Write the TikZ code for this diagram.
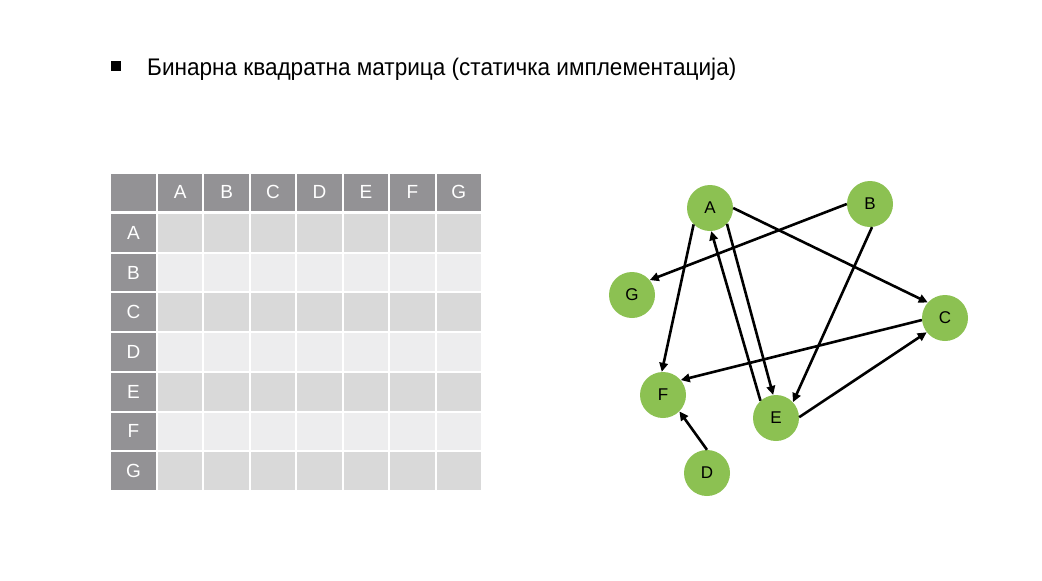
\documentclass[tikz,border=0pt]{standalone}
\usepackage{fontspec}
\setmainfont{Liberation Sans}
\usetikzlibrary{arrows.meta}
\definecolor{hdr}{HTML}{939295}
\definecolor{rowd}{HTML}{D9D9D9}
\definecolor{rowl}{HTML}{EDEDEE}
\definecolor{vgreen}{HTML}{8CC152}
\begin{document}
\begin{tikzpicture}[x=1pt,y=-1pt,
  hdrcell/.style={fill=hdr, draw=none, inner sep=0pt, text=white, font=\fontsize{19}{19}\selectfont},
  bodycell/.style={draw=none, inner sep=0pt},
  vtx/.style={circle, fill=vgreen, draw=none, minimum size=46pt, inner sep=0pt, font=\fontsize{17}{17}\selectfont},
  edge/.style={line width=2.6pt, -{Triangle[length=9pt,width=8.5pt]}}]
\useasboundingbox (0,0) rectangle (1042,581);
\fill[white] (0,0) rectangle (1042,581);
% title
\node[fill=black, minimum size=10pt, inner sep=0pt] (bul) at (116,66) {};
\node[anchor=base west, inner sep=0pt, font=\fontsize{24}{24}\selectfont] (title) at (147,75) {\scalebox{0.94}[1]{Бинарна квадратна матрица (статичка имплементација)}};
% table header
\node[hdrcell, minimum width=45pt, minimum height=37pt] (corner) at (133.5,192) {};
\foreach \l [count=\i] in {A,B,C,D,E,F,G}{
  \node[hdrcell, minimum width=44.4pt, minimum height=37pt] (h-\l) at ({157+46.43*(\i-0.5)},192) {\l};
}
\foreach \l/\f [count=\j] in {A/rowd,B/rowl,C/rowd,D/rowl,E/rowd,F/rowl,G/rowd}{
  \node[hdrcell, minimum width=45pt, minimum height=37.7pt] (r-\l) at (133.5,{213+39.7*(\j-0.5)}) {\l};
  \foreach \c [count=\i] in {A,B,C,D,E,F,G}{
    \node[bodycell, fill=\f, minimum width=44.4pt, minimum height=37.7pt] (c-\l-\c) at ({157+46.43*(\i-0.5)},{213+39.7*(\j-0.5)}) {};
  }
}
% graph
\node[vtx] (A) at (710,208) {A};
\node[vtx] (B) at (870,204) {B};
\node[vtx] (G) at (632,295) {G};
\node[vtx] (C) at (945,318) {C};
\node[vtx] (F) at (663,395) {F};
\node[vtx] (E) at (776,418) {E};
\node[vtx] (D) at (707,473) {D};
\draw[edge] (A.0) -- (C.138);
\draw[edge] (A.-135) -- (F.93);
\draw[edge] (A.-43) -- (E.97);
\draw[edge] (E.132) -- (A.-87);
\draw[edge] (B.180) -- (G.40);
\draw[edge] (B.-85) -- (E.43);
\draw[edge] (C.185) -- (F.40);
\draw[edge] (E.2) -- (C.218);
\draw[edge] (D.90) -- (F.-45);
\end{tikzpicture}
\end{document}
